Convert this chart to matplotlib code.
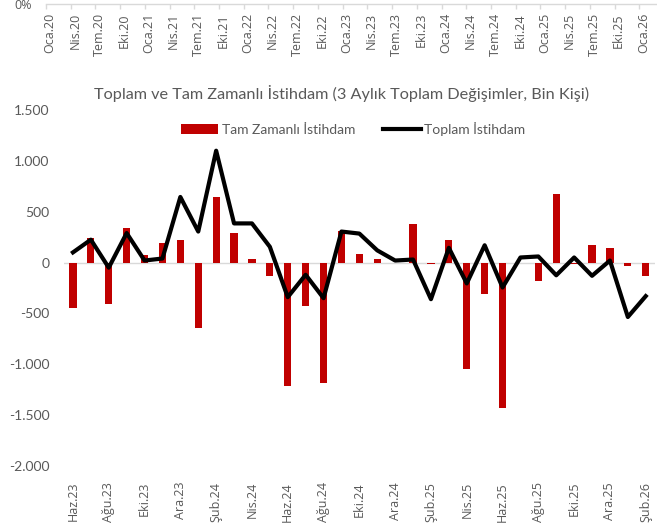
import numpy as np
import matplotlib
matplotlib.use('Agg')
from matplotlib import pyplot as plt
from matplotlib.ticker import FixedLocator, FuncFormatter

# monthly categories of the main chart
months = ['Haz.23', 'Tem.23', 'Ağu.23', 'Eyl.23', 'Eki.23', 'Kas.23', 'Ara.23',
          'Oca.24', 'Şub.24', 'Mar.24', 'Nis.24', 'May.24', 'Haz.24', 'Tem.24',
          'Ağu.24', 'Eyl.24', 'Eki.24', 'Kas.24', 'Ara.24', 'Oca.25', 'Şub.25',
          'Mar.25', 'Nis.25', 'May.25', 'Haz.25', 'Tem.25', 'Ağu.25', 'Eyl.25',
          'Eki.25', 'Kas.25', 'Ara.25', 'Oca.26', 'Şub.26']

tam_zamanli = [-450, 245, -410, 335, 75, 190, 220, -640, 645, 290, 40, -135,
               -1210, -425, -1180, 315, 85, 35, 0, 380, -10, 225, -1050, -310,
               -1430, -8, -180, 675, -10, 170, 140, -35, -130]

toplam = [100, 225, -50, 290, 20, 40, 645, 305, 1100, 385, 385, 155,
          -340, -120, -350, 305, 285, 120, 20, 30, -360, 145, -205, 170,
          -245, 50, 60, -125, 50, -130, 20, -535, -330]

# leftover axis of the chart cropped at the top of the picture
top_labels = ['Oca.20', 'Nis.20', 'Tem.20', 'Eki.20', 'Oca.21', 'Nis.21', 'Tem.21',
              'Eki.21', 'Oca.22', 'Nis.22', 'Tem.22', 'Eki.22', 'Oca.23', 'Nis.23',
              'Tem.23', 'Eki.23', 'Oca.24', 'Nis.24', 'Tem.24', 'Eki.24', 'Oca.25',
              'Nis.25', 'Tem.25', 'Eki.25', 'Oca.26']

y_ticks = [1500, 1000, 500, 0, -500, -1000, -1500, -2000]

GRAY = '#595959'
RED = '#C00000'
W, H = 657, 531

fig = plt.figure(figsize=(W / 100, H / 100), dpi=100)

# ---- top strip (bottom of previous chart) ----
ax_top = fig.add_axes([46 / W, 1 - 4 / H, (W - 46) / W, 0.1])
ax_top.set_xlim(-0.5, 73.65)
ax_top.set_ylim(0, 1)
for s in ['top', 'right', 'left']:
    ax_top.spines[s].set_visible(False)
ax_top.spines['bottom'].set_color('#d9d9d9')
ax_top.spines['bottom'].set_linewidth(1)
ax_top.set_xticks(np.arange(len(top_labels)) * 3)
ax_top.set_xticklabels(top_labels, rotation=90, fontsize=9, color=GRAY,
                       family='Open Sans')
ax_top.xaxis.set_minor_locator(FixedLocator(np.arange(len(top_labels)) * 3 - 0.5))
ax_top.tick_params(axis='x', which='major', length=0, pad=6.5)
ax_top.tick_params(axis='x', which='minor', length=3.6, color='#d9d9d9', width=1)
ax_top.set_yticks([0])
ax_top.set_yticklabels(['0%'], fontsize=9, color=GRAY, family='Open Sans')
ax_top.tick_params(axis='y', length=0, pad=10)

# ---- main chart ----
x = np.arange(len(months))
ax = fig.add_axes([64 / W, 1 - 466 / H, 590.7 / W, 356 / H])
bars = ax.bar(x, tam_zamanli, width=0.4, color=RED, zorder=2)
line, = ax.plot(x, toplam, color='black', lw=3, zorder=3)
ax.axhline(0, color='#d9d9d9', lw=1, zorder=1)

ax.set_xlim(-0.5, len(months) - 0.5)
ax.set_ylim(-2000, 1500)
for s in ax.spines.values():
    s.set_visible(False)

ax.set_yticks(y_ticks)
ax.yaxis.set_major_formatter(FuncFormatter(lambda v, p: f'{int(v):,}'.replace(',', '.')))
ax.tick_params(axis='y', length=0, pad=10.5, labelsize=10, labelcolor=GRAY)
for lb in ax.get_yticklabels():
    lb.set_family('Lato')

ax.set_xticks(x[::2])
ax.set_xticklabels(months[::2], rotation=90, fontsize=9, color=GRAY, family='Open Sans')
ax.tick_params(axis='x', length=0, pad=11.5)

fig.text(342 / W, 1 - 93 / H,
         'Toplam ve Tam Zamanlı İstihdam (3 Aylık Toplam Değişimler, Bin Kişi)',
         ha='center', va='center', fontsize=11.7, color=GRAY, family='Lato')

leg = fig.legend([bars, line], ['Tam Zamanlı İstihdam', 'Toplam İstihdam'],
                 loc='center', bbox_to_anchor=(353 / W, 1 - 129 / H), ncol=2,
                 frameon=False, handlelength=2.7, handletextpad=0.25,
                 columnspacing=2.0, prop={'family': 'Lato', 'size': 10})
for t in leg.get_texts():
    t.set_color(GRAY)

fig.savefig('out.png', dpi=100)
